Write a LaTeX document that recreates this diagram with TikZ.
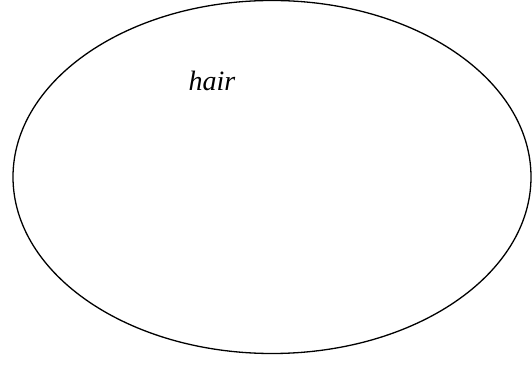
\documentclass[tikz,border=0pt]{standalone}
\usepackage{fontspec}
\setmainfont{Liberation Serif}
\usetikzlibrary{positioning,shapes.geometric}

\begin{document}
\begin{tikzpicture}[x=1pt, y=1pt, every node/.style={font=\fontsize{28}{32}\selectfont\itshape}]
  \useasboundingbox (0,0) rectangle (532,364);
  \node[draw, ellipse, line width=1.3pt, inner sep=0pt, minimum width=518pt, minimum height=353pt] (set) at (272,187) {};
  \node[anchor=base, inner sep=0pt] (hair) at (212,273) {hair};
\end{tikzpicture}
\end{document}
